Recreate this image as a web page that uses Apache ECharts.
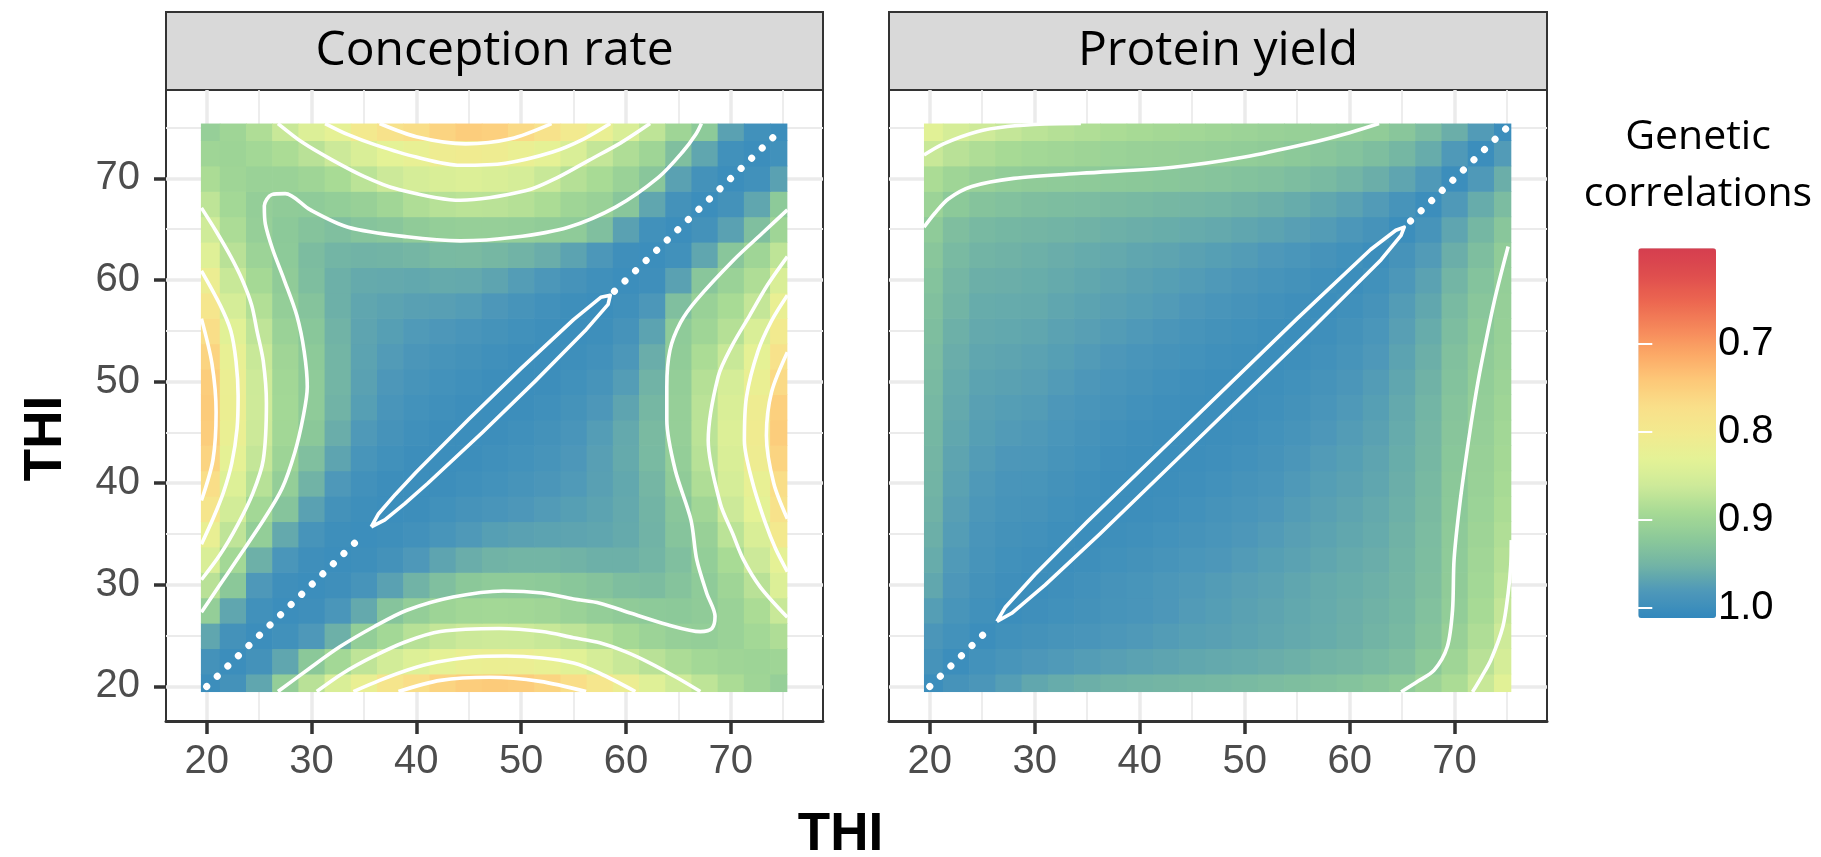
<!DOCTYPE html>
<html><head><meta charset="utf-8">
<script src="https://cdn.jsdelivr.net/npm/echarts@6/dist/echarts.min.js"></script>
<style>html,body{margin:0;padding:0;background:#fff}#c{width:1821px;height:857px}</style>
</head><body><div id="c"></div><script>
// ---------------- data ----------------
const THI = [20, 22.5, 25, 27.5, 30, 32.5, 35, 37.5, 40, 42.5, 45, 47.5, 50, 52.5, 55, 57.5, 60, 62.5, 65, 67.5, 70, 72.5, 75];
const MAJOR_TICKS = [20, 30, 40, 50, 60, 70];
const MINOR_TICKS = [25, 35, 45, 55, 65, 75];
const LEGEND_TICKS = [0.7, 0.8, 0.9, 1.0];
const PANEL_TITLES = ['Conception rate', 'Protein yield'];

// Conception rate: rows = THI on y, columns = THI on x
const CR_ROWS = [
[1.00,0.992,0.966,0.912,0.877,0.845,0.82,0.787,0.77,0.757,0.748,0.745,0.748,0.757,0.77,0.79,0.813,0.838,0.858,0.873,0.888,0.90,0.91],
[0.992,1.00,0.992,0.966,0.922,0.895,0.872,0.855,0.84,0.828,0.818,0.815,0.817,0.823,0.835,0.85,0.865,0.877,0.887,0.895,0.90,0.902,0.90],
[0.966,0.992,1.00,0.995,0.981,0.955,0.913,0.895,0.878,0.868,0.862,0.86,0.861,0.865,0.872,0.882,0.893,0.903,0.91,0.912,0.905,0.895,0.885],
[0.912,0.966,0.995,1.00,0.997,0.985,0.963,0.928,0.912,0.902,0.897,0.895,0.896,0.899,0.905,0.912,0.917,0.92,0.921,0.917,0.905,0.888,0.865],
[0.877,0.922,0.981,0.997,1.00,0.997,0.989,0.971,0.952,0.935,0.922,0.918,0.918,0.92,0.924,0.929,0.937,0.939,0.929,0.918,0.90,0.877,0.842],
[0.845,0.895,0.955,0.985,0.997,1.00,0.998,0.992,0.981,0.968,0.958,0.952,0.95,0.95,0.952,0.955,0.955,0.95,0.935,0.913,0.89,0.862,0.828],
[0.82,0.872,0.913,0.963,0.989,0.998,1.00,0.998,0.994,0.987,0.98,0.974,0.971,0.969,0.968,0.966,0.962,0.952,0.928,0.908,0.875,0.845,0.797],
[0.787,0.855,0.895,0.928,0.971,0.992,0.998,1.00,0.999,0.995,0.99,0.986,0.982,0.978,0.974,0.969,0.963,0.951,0.925,0.898,0.862,0.83,0.78],
[0.77,0.84,0.878,0.912,0.952,0.981,0.994,0.999,1.00,0.999,0.996,0.993,0.989,0.984,0.979,0.972,0.964,0.948,0.917,0.885,0.85,0.822,0.77],
[0.757,0.828,0.868,0.902,0.935,0.968,0.987,0.995,0.999,1.00,0.999,0.996,0.993,0.988,0.982,0.973,0.962,0.943,0.912,0.878,0.845,0.81,0.757],
[0.748,0.818,0.862,0.897,0.922,0.958,0.98,0.99,0.996,0.999,1.00,0.999,0.996,0.992,0.986,0.976,0.963,0.942,0.91,0.875,0.842,0.805,0.748],
[0.745,0.815,0.86,0.895,0.918,0.952,0.974,0.986,0.993,0.996,0.999,1.00,0.999,0.996,0.991,0.982,0.968,0.946,0.91,0.876,0.845,0.81,0.752],
[0.748,0.817,0.861,0.896,0.918,0.95,0.971,0.982,0.989,0.993,0.996,0.999,1.00,0.999,0.995,0.989,0.976,0.952,0.912,0.88,0.85,0.818,0.765],
[0.757,0.823,0.865,0.899,0.92,0.95,0.969,0.978,0.984,0.988,0.992,0.996,0.999,1.00,0.998,0.994,0.983,0.958,0.915,0.888,0.865,0.828,0.78],
[0.77,0.835,0.872,0.905,0.924,0.952,0.968,0.974,0.979,0.982,0.986,0.991,0.995,0.998,1.00,0.998,0.99,0.969,0.918,0.90,0.88,0.845,0.80],
[0.79,0.85,0.882,0.912,0.929,0.955,0.966,0.969,0.972,0.973,0.976,0.982,0.989,0.994,0.998,1.00,0.996,0.983,0.935,0.907,0.89,0.868,0.82],
[0.813,0.865,0.893,0.917,0.937,0.955,0.962,0.963,0.964,0.962,0.963,0.968,0.976,0.983,0.99,0.996,1.00,0.997,0.971,0.925,0.905,0.885,0.845],
[0.838,0.877,0.903,0.92,0.939,0.95,0.952,0.951,0.948,0.943,0.942,0.946,0.952,0.958,0.969,0.983,0.997,1.00,0.995,0.966,0.925,0.90,0.873],
[0.858,0.887,0.91,0.921,0.929,0.935,0.928,0.925,0.917,0.912,0.91,0.91,0.912,0.915,0.918,0.935,0.971,0.995,1.00,0.992,0.971,0.935,0.90],
[0.873,0.895,0.912,0.917,0.918,0.913,0.908,0.898,0.885,0.878,0.875,0.876,0.88,0.888,0.90,0.907,0.925,0.966,0.992,1.00,0.992,0.966,0.92],
[0.888,0.90,0.905,0.905,0.90,0.89,0.875,0.862,0.85,0.845,0.842,0.845,0.85,0.865,0.88,0.89,0.905,0.925,0.971,0.992,1.00,0.995,0.971],
[0.90,0.902,0.895,0.888,0.877,0.862,0.845,0.83,0.822,0.81,0.805,0.81,0.818,0.828,0.845,0.868,0.885,0.90,0.935,0.966,0.995,1.00,0.995],
[0.91,0.90,0.885,0.865,0.842,0.828,0.797,0.78,0.77,0.757,0.748,0.752,0.765,0.78,0.80,0.82,0.845,0.873,0.90,0.92,0.971,0.995,1.00]
];

// Protein yield
const PY_ROWS = [
[1,0.99,0.984,0.975,0.965,0.96,0.956,0.953,0.951,0.949,0.947,0.945,0.943,0.94,0.937,0.934,0.93,0.925,0.918,0.903,0.888,0.865,0.835],
[0.99,1,0.993,0.987,0.982,0.979,0.976,0.973,0.97,0.968,0.965,0.963,0.961,0.958,0.955,0.951,0.948,0.943,0.936,0.921,0.90,0.877,0.85],
[0.984,0.993,1,0.995,0.992,0.989,0.986,0.983,0.98,0.977,0.974,0.972,0.969,0.966,0.963,0.96,0.956,0.951,0.944,0.929,0.908,0.885,0.86],
[0.975,0.987,0.995,1,0.997,0.995,0.992,0.989,0.986,0.982,0.978,0.975,0.971,0.968,0.964,0.961,0.957,0.953,0.947,0.933,0.914,0.891,0.868],
[0.965,0.982,0.992,0.997,1,0.997,0.994,0.99,0.987,0.983,0.98,0.977,0.973,0.97,0.966,0.962,0.959,0.955,0.949,0.936,0.917,0.895,0.875],
[0.96,0.979,0.989,0.995,0.997,1,0.998,0.995,0.992,0.989,0.985,0.982,0.978,0.974,0.97,0.966,0.962,0.958,0.951,0.938,0.918,0.898,0.88],
[0.956,0.976,0.986,0.992,0.994,0.998,1,0.998,0.996,0.993,0.99,0.986,0.982,0.978,0.973,0.969,0.965,0.961,0.953,0.94,0.919,0.901,0.884],
[0.953,0.973,0.983,0.989,0.99,0.995,0.998,1,0.999,0.997,0.994,0.99,0.986,0.982,0.977,0.972,0.968,0.963,0.955,0.942,0.921,0.904,0.888],
[0.951,0.97,0.98,0.986,0.987,0.992,0.996,0.999,1,0.999,0.997,0.994,0.99,0.986,0.98,0.975,0.971,0.966,0.957,0.944,0.922,0.906,0.891],
[0.949,0.968,0.977,0.982,0.983,0.989,0.993,0.997,0.999,1,0.999,0.997,0.994,0.99,0.984,0.978,0.974,0.968,0.959,0.946,0.924,0.908,0.894],
[0.947,0.965,0.974,0.978,0.98,0.985,0.99,0.994,0.997,0.999,1,0.999,0.997,0.993,0.988,0.982,0.977,0.971,0.961,0.948,0.926,0.91,0.897],
[0.945,0.963,0.972,0.975,0.977,0.982,0.986,0.99,0.994,0.997,0.999,1,0.999,0.996,0.992,0.986,0.98,0.974,0.963,0.95,0.928,0.912,0.90],
[0.943,0.961,0.969,0.971,0.973,0.978,0.982,0.986,0.99,0.994,0.997,0.999,1,0.998,0.995,0.99,0.984,0.977,0.966,0.953,0.931,0.914,0.903],
[0.94,0.958,0.966,0.968,0.97,0.974,0.978,0.982,0.986,0.99,0.993,0.996,0.998,1,0.998,0.994,0.988,0.981,0.969,0.956,0.934,0.917,0.906],
[0.937,0.955,0.963,0.964,0.966,0.97,0.973,0.977,0.98,0.984,0.988,0.992,0.995,0.998,1,0.997,0.992,0.985,0.973,0.96,0.938,0.921,0.909],
[0.934,0.951,0.96,0.961,0.962,0.966,0.969,0.972,0.975,0.978,0.982,0.986,0.99,0.994,0.997,1,0.996,0.99,0.977,0.965,0.943,0.925,0.91],
[0.93,0.948,0.956,0.957,0.959,0.962,0.965,0.968,0.971,0.974,0.977,0.98,0.984,0.988,0.992,0.996,1,0.995,0.983,0.97,0.95,0.93,0.912],
[0.925,0.943,0.951,0.953,0.955,0.958,0.961,0.963,0.966,0.968,0.971,0.974,0.977,0.981,0.985,0.99,0.995,1,0.99,0.978,0.957,0.937,0.915],
[0.918,0.936,0.944,0.947,0.949,0.951,0.953,0.955,0.957,0.959,0.961,0.963,0.966,0.969,0.973,0.977,0.983,0.99,1,0.988,0.967,0.947,0.925],
[0.903,0.921,0.929,0.933,0.936,0.938,0.94,0.942,0.944,0.946,0.948,0.95,0.953,0.956,0.96,0.965,0.97,0.978,0.988,1,0.98,0.96,0.94],
[0.888,0.90,0.908,0.914,0.917,0.918,0.919,0.921,0.922,0.924,0.926,0.928,0.931,0.934,0.938,0.943,0.95,0.957,0.967,0.98,1,0.98,0.957],
[0.865,0.877,0.885,0.891,0.895,0.898,0.901,0.904,0.906,0.908,0.91,0.912,0.914,0.917,0.921,0.925,0.93,0.937,0.947,0.96,0.98,1,0.978],
[0.835,0.85,0.86,0.868,0.875,0.88,0.884,0.888,0.891,0.894,0.897,0.90,0.903,0.906,0.909,0.91,0.912,0.915,0.925,0.94,0.957,0.978,1]
];

// contour lines, [THI x, THI y]
const CR_CONTOURS = [
 [[19.5,27.3],[21.2,29.9],[22.9,32.5],[25.5,36.5],[27.2,39.5],[28.4,43],[29.2,46.5],[29.6,49.5],[29.3,53],[28.6,56.5],[27.4,60],[26.3,63],[25.6,65.5],[25.5,67.3],[26.2,68.4],[27.5,68.5],[29.9,66.9],[33.5,65.2],[39.1,64.25],[44.2,63.85],[49.3,64.2],[54.5,65.2],[59.05,67.2],[63.1,70.1],[65.4,72.6],[66.7,74.4],[67.2,75.4]],
 [[26.8,19.5],[29.7,21.7],[32.7,23.9],[36,25.9],[39.1,27.5],[43.5,28.8],[48.3,29.4],[52,29.2],[55,28.6],[57.5,28.2],[60.5,27.2],[63.9,26.1],[67.1,25.4],[68.2,25.7],[68.5,26.9],[67.7,29.2],[66.75,32.5],[66.2,36.4],[64.7,41.3],[63.9,46.2],[63.9,49.5],[64.2,53.1],[65.2,55.8],[66.7,58],[70.3,62],[73,64.6],[75.4,66.9]],
 [[30.5,19.5],[33,21.3],[35.9,22.95],[39,24.4],[42.3,25.4],[47.9,25.7],[52,25.4],[55,24.8],[57.5,24.3],[60,23.4],[62.3,22.3],[64.8,20.9],[67.1,19.5]],
 [[34,19.5],[36.5,20.6],[39.1,21.6],[42,22.4],[45.4,22.9],[48.6,23],[52,22.8],[55,22.3],[57.5,21.3],[60.9,19.5]],
 [[38.3,19.5],[42.3,20.6],[47,20.9],[51.8,20.5],[56.2,19.5]],
 [[19.5,30.5],[21.3,33],[22.95,35.9],[24.4,39],[25.4,42.3],[25.7,47.9],[25.4,52],[24.8,55],[24.3,57.5],[23.4,60],[22.3,62.3],[20.9,64.8],[19.5,67.1]],
 [[19.5,34],[20.6,36.5],[21.6,39.1],[22.4,42],[22.9,45.4],[23,48.6],[22.8,52],[22.3,55],[21.3,57.5],[19.5,60.9]],
 [[19.5,38.3],[20.6,42.3],[20.9,47],[20.5,51.8],[19.5,56.2]],
 [[36.5,75.4],[40,74.1],[44.7,73.4],[49,73.9],[52.9,75.4]],
 [[31.3,75.4],[33.5,74.3],[36.1,73.3],[40,72.1],[44.2,71.3],[48.5,71.5],[53,72.6],[56,73.9],[58.5,75.4]],
 [[26.8,75.4],[29.2,73.5],[32,71.8],[35,70.2],[38,69],[44.2,67.85],[50.5,68.8],[53.5,70.1],[56.5,71.8],[59.5,73.5],[62.3,75.4]],
 [[75.4,36.5],[74.1,40],[73.4,44.7],[73.9,49],[75.4,52.9]],
 [[75.4,31.3],[74.3,33.5],[73.3,36.1],[72.1,40],[71.3,44.2],[71.5,48.5],[72.6,53],[73.9,56],[75.4,58.5]],
 [[75.4,26.8],[72.8,29.8],[71.2,32.5],[70.2,35],[69,38],[67.85,44.2],[68.8,50.5],[70.1,53.5],[71.8,56.5],[73.5,59.5],[75.4,62.3]]
];
const CR_LOOP = [[35.7,35.7],[36.4,37.0],[38,38.9],[40,41.1],[45,46.3],[50,51.3],[55,56.1],[57.6,58.3],[58.5,58.5],[58.3,57.6],[56.1,55],[51.3,50],[46.3,45],[41.1,40],[38.9,38],[37.0,36.4],[35.7,35.7]];
const CR_DOTS = [[[20,20],[35.1,35.1]], [[58.9,58.9],[75,75]]];

const PY_CONTOURS = [
 [[19.45,72.3],[21.3,73.4],[24.5,74.6],[27.4,75.1],[31,75.35],[34.4,75.4]],
 [[19.45,65.2],[20.5,66.6],[21.8,68],[24,69.2],[28,70],[34.4,70.5],[43.2,71.1],[50,72.1],[55.9,73.4],[60,74.5],[62.8,75.4]],
 [[71.7,19.45],[72.6,21],[73.45,22.6],[74.6,25.9],[75.1,29.2],[75.35,32],[75.4,34.4]],
 [[64.9,19.45],[66.5,20.5],[68.05,21.6],[69.3,23.9],[69.8,27.5],[69.95,32.5],[70.5,38],[71.3,44],[71.9,48],[72.5,51.5],[73.8,58],[75.1,63.3]]
];
const PY_LOOP = [[26.4,26.4],[27.2,27.8],[30,31],[35,36.2],[45,46.2],[55,56.2],[62,63],[64.4,64.9],[65.2,65.2],[64.9,64.4],[63,62],[56.2,55],[46.2,45],[36.2,35],[31,30],[27.8,27.2],[26.4,26.4]];
const PY_DOTS = [[[20,20],[25.9,25.9]], [[65.8,65.8],[75,75]]];

// ---------------- styling ----------------
const COLORS = ['#D53E4F','#DE4D4E','#EC6650','#F5865A','#FCA866','#FDC878','#F9DF89','#F2EA8F','#E4F296','#CDEA99','#A7DA95','#8CC999','#72B4A5','#4E98B9','#3288BD'];
const SCALE_RANGE = [0.591, 1.011];
const X_RANGE = [16.12, 78.8];
const Y_RANGE = [16.6, 78.7];
const TILE_EXTENT = [19.45, 75.4];
const HALF = (THI[1] - THI[0]) / 2;
const AXIS_FONT = 'Liberation Sans';
const LINE_W = 3.6;

function toCells(rows) {
  const out = [];
  rows.forEach((row, j) => row.forEach((v, i) => out.push([THI[i], THI[j], v])));
  return out;
}
function renderCell(params, api) {
  const x = api.value(0), y = api.value(1);
  const x0 = Math.max(x - HALF, TILE_EXTENT[0]), x1 = Math.min(x + HALF, TILE_EXTENT[1]);
  const y0 = Math.max(y - HALF, TILE_EXTENT[0]), y1 = Math.min(y + HALF, TILE_EXTENT[1]);
  const a = api.coord([x0, y1]), b = api.coord([x1, y0]);
  const ex = x1 < TILE_EXTENT[1] ? 0.7 : 0, ey = y0 > TILE_EXTENT[0] ? 0.7 : 0;
  return { type: 'rect', shape: { x: a[0], y: a[1], width: b[0] - a[0] + ex, height: b[1] - a[1] + ey },
           style: { fill: api.visual('color') } };
}

function xMajor(g) {
  return { type: 'value', gridIndex: g, min: X_RANGE[0], max: X_RANGE[1], position: 'bottom',
    axisLine: { show: true, onZero: false, lineStyle: { color: '#333', width: 3 } },
    axisTick: { show: true, customValues: MAJOR_TICKS, length: 13, lineStyle: { color: '#333', width: 3.5 } },
    axisLabel: { show: true, customValues: MAJOR_TICKS, margin: 21, fontSize: 40, fontFamily: AXIS_FONT, color: '#4D4D4D' },
    splitLine: { show: true, lineStyle: { color: '#EBEBEB', width: 3.5 } } };
}
function xMinor(g) {
  return { type: 'value', gridIndex: g, min: X_RANGE[0], max: X_RANGE[1], position: 'top',
    axisLine: { show: false }, axisTick: { show: false, customValues: MINOR_TICKS },
    axisLabel: { show: false, customValues: MINOR_TICKS },
    splitLine: { show: true, lineStyle: { color: '#EBEBEB', width: 1.8 } } };
}
function yMajor(g, labels) {
  return { type: 'value', gridIndex: g, min: Y_RANGE[0], max: Y_RANGE[1], position: 'left',
    axisLine: { show: false },
    axisTick: { show: labels, customValues: MAJOR_TICKS, length: 12, lineStyle: { color: '#333', width: 3.5 } },
    axisLabel: { show: labels, customValues: MAJOR_TICKS, margin: 26, fontSize: 40, fontFamily: AXIS_FONT, color: '#4D4D4D' },
    splitLine: { show: true, lineStyle: { color: '#EBEBEB', width: 3.5 } } };
}
function yMinor(g) {
  return { type: 'value', gridIndex: g, min: Y_RANGE[0], max: Y_RANGE[1], position: 'right',
    axisLine: { show: false }, axisTick: { show: false, customValues: MINOR_TICKS },
    axisLabel: { show: false, customValues: MINOR_TICKS },
    splitLine: { show: true, lineStyle: { color: '#EBEBEB', width: 1.8 } } };
}

function lineSeries(data, xi, yi, extra) {
  return Object.assign({ type: 'line', data: data, xAxisIndex: xi, yAxisIndex: yi, showSymbol: false, symbol: 'none',
    smooth: 0.3, silent: true, z: 4, animation: false,
    lineStyle: { color: '#ffffff', width: LINE_W } }, extra || {});
}

const series = [
  { type: 'custom', name: PANEL_TITLES[0], xAxisIndex: 0, yAxisIndex: 0, data: toCells(CR_ROWS), renderItem: renderCell, silent: true, z: 2, encode: { x: 0, y: 1 } },
  { type: 'custom', name: PANEL_TITLES[1], xAxisIndex: 2, yAxisIndex: 2, data: toCells(PY_ROWS), renderItem: renderCell, silent: true, z: 2, encode: { x: 0, y: 1 } }
];
CR_CONTOURS.forEach(c => series.push(lineSeries(c, 0, 0)));
PY_CONTOURS.forEach(c => series.push(lineSeries(c, 2, 2)));
const LOOP_STYLE = { color: '#fff', width: LINE_W, join: 'round' };
series.push(lineSeries(CR_LOOP, 0, 0, { smooth: false, lineStyle: LOOP_STYLE }));
series.push(lineSeries(PY_LOOP, 2, 2, { smooth: false, lineStyle: LOOP_STYLE }));
const DOT_STYLE = { color: '#fff', width: 7, type: [0.1, 14.6], cap: 'round' };
CR_DOTS.forEach(d => series.push(lineSeries(d, 0, 0, { smooth: false, lineStyle: DOT_STYLE })));
PY_DOTS.forEach(d => series.push(lineSeries(d, 2, 2, { smooth: false, lineStyle: DOT_STYLE })));

const chart = echarts.init(document.getElementById('c'), null, { renderer: 'canvas' });
chart.setOption({
  animation: false,
  backgroundColor: '#ffffff',
  grid: [
    { left: 166, top: 90, width: 657, height: 631, show: true, backgroundColor: '#fff', borderColor: '#333', borderWidth: 2 },
    { left: 889, top: 90, width: 658, height: 631, show: true, backgroundColor: '#fff', borderColor: '#333', borderWidth: 2 },
    { left: 1638.3, top: 248.2, width: 77.7, height: 369.7, show: false }
  ],
  xAxis: [ xMajor(0), xMinor(0), xMajor(1), xMinor(1), { type: 'value', gridIndex: 2, show: false } ],
  yAxis: [ yMajor(0, true), yMinor(0), yMajor(1, false), yMinor(1),
    { type: 'value', gridIndex: 2, min: SCALE_RANGE[0], max: SCALE_RANGE[1], inverse: true, position: 'right', z: 10,
      axisLine: { show: false }, splitLine: { show: false },
      axisTick: { show: true, inside: true, customValues: LEGEND_TICKS, length: 14, lineStyle: { color: '#fff', width: 2 } },
      axisLabel: { show: true, inside: false, customValues: LEGEND_TICKS, margin: 2, fontSize: 40, fontFamily: AXIS_FONT, color: '#000', formatter: v => v.toFixed(1) } },
    { type: 'value', gridIndex: 2, min: SCALE_RANGE[0], max: SCALE_RANGE[1], inverse: true, position: 'left', z: 10,
      axisLine: { show: false }, splitLine: { show: false }, axisLabel: { show: false },
      axisTick: { show: true, inside: true, customValues: LEGEND_TICKS, length: 14, lineStyle: { color: '#fff', width: 2 } } }
  ],
  visualMap: {
    type: 'continuous', min: SCALE_RANGE[0], max: SCALE_RANGE[1], inverse: true, seriesIndex: [0, 1], dimension: 2,
    inRange: { color: COLORS }, left: 1638.3, top: 248.2, itemWidth: 77.7, itemHeight: 369.7,
    calculable: false, hoverLink: false, padding: 0, z: 2, text: null, showLabel: false
  },
  graphic: [
    { type: 'rect', shape: { x: 166, y: 12, width: 657, height: 78 }, style: { fill: '#D9D9D9', stroke: '#333', lineWidth: 2 } },
    { type: 'rect', shape: { x: 889, y: 12, width: 658, height: 78 }, style: { fill: '#D9D9D9', stroke: '#333', lineWidth: 2 } },
    { type: 'text', x: 494.5, y: 51, style: { text: PANEL_TITLES[0], font: '48px "Open Sans"', fill: '#000', align: 'center', verticalAlign: 'middle', textAlign: 'center', textVerticalAlign: 'middle' } },
    { type: 'text', x: 1218, y: 51, style: { text: PANEL_TITLES[1], font: '48px "Open Sans"', fill: '#000', align: 'center', verticalAlign: 'middle', textAlign: 'center', textVerticalAlign: 'middle' } },
    { type: 'text', x: 840.5, y: 835, style: { text: 'THI', font: 'bold 53px "Liberation Sans"', fill: '#000', align: 'center', verticalAlign: 'middle', textAlign: 'center', textVerticalAlign: 'middle' } },
    { type: 'text', x: 46, y: 438.5, rotation: Math.PI / 2, style: { text: 'THI', font: 'bold 53px "Liberation Sans"', fill: '#000', align: 'center', verticalAlign: 'middle', textAlign: 'center', textVerticalAlign: 'middle' } },
    { type: 'text', x: 1698, y: 137, style: { text: 'Genetic', font: '41px "Open Sans"', fill: '#000', align: 'center', verticalAlign: 'middle', textAlign: 'center', textVerticalAlign: 'middle' } },
    { type: 'text', x: 1698, y: 194, style: { text: 'correlations', font: '41px "Open Sans"', fill: '#000', align: 'center', verticalAlign: 'middle', textAlign: 'center', textVerticalAlign: 'middle' } }
  ],
  series: series
});
</script></body></html>
